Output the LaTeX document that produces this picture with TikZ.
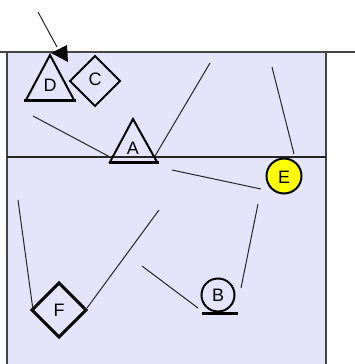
\documentclass[tikz,border=0pt]{standalone}
\usepackage{fontspec}
\setmainfont{Liberation Sans}
\definecolor{bgfill}{RGB}{228,228,252}
\definecolor{framegray}{RGB}{70,70,70}
\definecolor{eyellow}{RGB}{255,255,0}
\begin{document}
\begin{tikzpicture}[x=1pt,y=-1pt,
  lbl/.style={font=\fontsize{18}{18}\selectfont, inner sep=0pt},
  conn/.style={line width=1pt, black!85},
  shp/.style={line width=2pt, black, line join=miter},
  baseline/.style={line width=3pt, black},
  frame/.style={line width=1.6pt, framegray}]
\useasboundingbox (0,0) rectangle (355,364);
% background region
\fill[bgfill] (7,52) rectangle (326,364);
\draw[frame] (0,52) -- (355,52);
\draw[frame] (7,52) -- (7,364);
\draw[frame] (326,52) -- (326,364);
\draw[line width=1.1pt, black!85] (7,157) -- (326,157);
% triangle D
\draw[shp] (50,55) -- (74,100) -- (26,100) -- cycle;
\draw[baseline] (24,100) -- (76,100);
\node[lbl] (D) at (50,85) {D};
% diamond C
\draw[shp] (95,56) -- (120,81) -- (95,106) -- (70,81) -- cycle;
\node[lbl] (C) at (95,79) {C};
% triangle A
\draw[shp] (133,119) -- (157,162) -- (110,162) -- cycle;
\draw[baseline] (109,162) -- (159,162);
\node[lbl] (A) at (133,148) {A};
% circle E
\node[circle, draw, line width=2pt, fill=eyellow, minimum size=35pt, inner sep=0pt] (Ecirc) at (284,176) {};
\node[lbl] (E) at (284,177) {E};
% B
\node[circle, draw, line width=2pt, minimum size=33pt, inner sep=0pt] (Bcirc) at (218,295) {};
\draw[baseline] (202,313) -- (238,313);
\node[lbl] (B) at (218,295) {B};
% diamond F
\draw[line width=3pt, black, line join=miter] (59,283) -- (86,310) -- (59,337) -- (32,310) -- cycle;
\node[lbl] (F) at (59,310) {F};
% arrow
\coordinate (arS) at (38,12);
\coordinate (arE) at (57,47);
\draw[conn] (arS) -- (arE);
\fill[black] (51,53) -- (67,45) -- (68,62) -- cycle;
% connectors
\coordinate (p1) at (33,116); \coordinate (q1) at (110,157);
\coordinate (p2) at (155,156); \coordinate (q2) at (210,63);
\coordinate (p3) at (272,67); \coordinate (q3) at (294,154);
\coordinate (p4) at (172,170); \coordinate (q4) at (261,189);
\coordinate (p5) at (258,204); \coordinate (q5) at (241,288);
\coordinate (p6) at (142,266); \coordinate (q6) at (198,308);
\coordinate (p7) at (18,200); \coordinate (q7) at (33,310);
\coordinate (p8) at (87,308); \coordinate (q8) at (159,210);
\foreach \i in {1,...,8} {\draw[conn] (p\i) -- (q\i);}
\end{tikzpicture}
\end{document}
